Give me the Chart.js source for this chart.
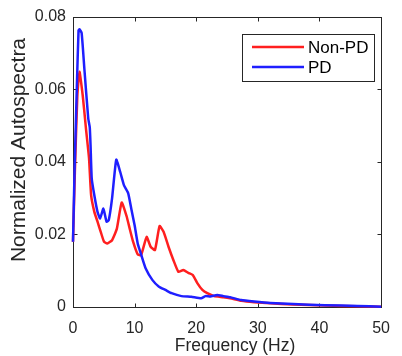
<!DOCTYPE html>
<html>
<head>
<meta charset="utf-8">
<script src="https://cdn.jsdelivr.net/npm/chart.js@4/dist/chart.umd.min.js"></script>
<style>
  html, body { margin: 0; padding: 0; background: #ffffff; }
  #wrap { width: 402px; height: 356px; }
</style>
</head>
<body>
<div id="wrap"><canvas id="c" width="402" height="356"></canvas></div>
<script>
// ---- data ----
const seriesLabels = ["Non-PD", "PD"];
const seriesColors = ["#ff1f1f", "#1f1fff"];

const nonPdFreq = [0, 0.3, 0.7, 1.05, 1.57, 2.1, 2.6, 2.94, 3.46, 3.98, 4.5, 5.03, 5.55, 6.34, 7.12, 7.9, 8.7, 9.2, 9.75, 10.5, 11.05, 11.95, 12.6, 13.3, 14.05, 14.7, 15.5, 16.3, 17.1, 17.9, 18.7, 19.45, 20.2, 21.0, 21.8, 22.9, 24.4, 25.5, 27.3, 29.4, 32, 35.7, 40.9, 46.2, 50];
const nonPdValues = [0.018, 0.037, 0.058, 0.0648, 0.0584, 0.0492, 0.041, 0.0308, 0.0262, 0.0235, 0.0207, 0.018, 0.0175, 0.0184, 0.0216, 0.0288, 0.025, 0.0216, 0.018, 0.0145, 0.0143, 0.0193, 0.0166, 0.0157, 0.0223, 0.0207, 0.0166, 0.0129, 0.0097, 0.0102, 0.0094, 0.0088, 0.0065, 0.0047, 0.0038, 0.003, 0.0027, 0.0024, 0.0017, 0.0013, 0.001, 0.0007, 0.0004, 0.0002, 0.0001];

const pdFreq = [0, 0.26, 0.63, 0.9, 1.05, 1.4, 1.84, 2.47, 2.72, 2.85, 3.04, 3.46, 3.98, 4.4, 4.93, 5.45, 5.8, 6.34, 7.02, 7.66, 8.28, 8.96, 9.5, 10.0, 10.5, 11.05, 11.8, 12.9, 13.95, 15.0, 16.0, 17.6, 19.2, 20.8, 21.5, 22.3, 23.4, 24.4, 25.5, 27.3, 29.4, 32, 35.7, 40.9, 46.2, 50];
const pdValues = [0.018, 0.038, 0.061, 0.0762, 0.0765, 0.0755, 0.0657, 0.052, 0.0495, 0.0445, 0.0354, 0.0308, 0.0262, 0.0244, 0.0271, 0.0235, 0.0239, 0.0299, 0.0406, 0.0372, 0.0335, 0.0313, 0.0267, 0.0225, 0.0175, 0.0145, 0.0106, 0.0074, 0.0056, 0.0047, 0.0038, 0.003, 0.0028, 0.0024, 0.003, 0.0029, 0.0033, 0.003, 0.0027, 0.0019, 0.0015, 0.0011, 0.0008, 0.0005, 0.0003, 0.0001];

const xTicks = [0, 10, 20, 30, 40, 50];
const yTicks = [0, 0.02, 0.04, 0.06, 0.08];
const xTitle = "Frequency (Hz)";
const yTitle = "Normalized Autospectra";

// ---- build ----
const toPts = (xs, ys) => xs.map((x, i) => ({ x: x, y: ys[i] }));
const AXIS = "#262626";
const FONT = "'Liberation Sans', Arial, Helvetica, sans-serif";

const bgPlugin = {
  id: "bg",
  beforeDraw(chart) {
    const ctx = chart.ctx;
    ctx.save();
    ctx.fillStyle = "#ffffff";
    ctx.fillRect(0, 0, chart.width, chart.height);
    ctx.restore();
  }
};

const boxPlugin = {
  id: "box",
  beforeDatasetsDraw(chart) {
    const ctx = chart.ctx;
    const a = chart.chartArea;
    const xs = chart.scales.x, ys = chart.scales.y;
    ctx.save();
    ctx.strokeStyle = AXIS;
    ctx.lineWidth = 1;
    const L = Math.round(a.left) + 0.5, R = Math.round(a.right) + 0.5;
    const T = Math.round(a.top) + 0.5, B = Math.round(a.bottom) + 0.5;
    ctx.strokeRect(L, T, R - L, B - T);
    const tl = 4;
    ctx.beginPath();
    xTicks.forEach(v => {
      const px = Math.round(xs.getPixelForValue(v)) + 0.5;
      ctx.moveTo(px, B); ctx.lineTo(px, B - tl);
      ctx.moveTo(px, T); ctx.lineTo(px, T + tl);
    });
    yTicks.forEach(v => {
      const py = Math.round(ys.getPixelForValue(v)) + 0.5;
      ctx.moveTo(L, py); ctx.lineTo(L + tl, py);
      ctx.moveTo(R, py); ctx.lineTo(R - tl, py);
    });
    ctx.stroke();
    ctx.restore();
  },
  afterDraw(chart) {
    const ctx = chart.ctx;
    ctx.save();
    // axis titles
    ctx.fillStyle = AXIS;
    ctx.font = "17.5px " + FONT;
    ctx.textAlign = "center";
    ctx.textBaseline = "alphabetic";
    ctx.fillText(xTitle, 235, 351);
    ctx.save();
    ctx.translate(25, 150);
    ctx.rotate(-Math.PI / 2);
    ctx.font = "21px " + FONT;
    ctx.fillText(yTitle, 0, 0);
    ctx.restore();

    // legend
    const bx = 242.5, by = 34.5, bw = 132, bh = 47;
    ctx.fillStyle = "#ffffff";
    ctx.fillRect(bx, by, bw, bh);
    ctx.strokeStyle = AXIS;
    ctx.lineWidth = 1;
    ctx.strokeRect(bx, by, bw, bh);
    const rows = [47, 67];
    chart.data.datasets.forEach((ds, i) => {
      const yy = rows[i];
      ctx.strokeStyle = ds.borderColor;
      ctx.lineWidth = 2.5;
      ctx.beginPath();
      ctx.moveTo(252, yy); ctx.lineTo(304, yy);
      ctx.stroke();
      ctx.fillStyle = "#000000";
      ctx.font = "17px " + FONT;
      ctx.textAlign = "left";
      ctx.textBaseline = "middle";
      ctx.fillText(ds.label, 308, yy + 1);
    });
    ctx.restore();
  }
};

new Chart(document.getElementById("c"), {
  type: "line",
  data: {
    datasets: [
      { label: seriesLabels[0], data: toPts(nonPdFreq, nonPdValues), borderColor: seriesColors[0], borderWidth: 2.5, pointRadius: 0, tension: 0.15, fill: false, order: 1, clip: 3 },
      { label: seriesLabels[1], data: toPts(pdFreq, pdValues), borderColor: seriesColors[1], borderWidth: 2.5, pointRadius: 0, tension: 0.15, fill: false, order: 0, clip: 3 }
    ]
  },
  options: {
    responsive: false,
    animation: false,
    events: [],
    layout: { padding: { top: 16, right: 11, left: 0, bottom: 0 } },
    plugins: { legend: { display: false }, tooltip: { enabled: false }, title: { display: false } },
    scales: {
      x: {
        type: "linear", min: 0, max: 50,
        afterFit(s) { s.height = 49; },
        afterBuildTicks(s) { s.ticks = xTicks.map(v => ({ value: v })); },
        grid: { display: false, drawTicks: false },
        border: { display: false },
        ticks: { color: AXIS, font: { family: FONT, size: 16 }, padding: 12, maxRotation: 0, callback: v => String(v) }
      },
      y: {
        type: "linear", min: 0, max: 0.08,
        afterFit(s) { s.width = 73; },
        afterBuildTicks(s) { s.ticks = yTicks.map(v => ({ value: v })); },
        grid: { display: false, drawTicks: false },
        border: { display: false },
        ticks: { color: AXIS, font: { family: FONT, size: 16 }, padding: 7, callback: v => (v === 0 ? "0" : String(+v.toFixed(2))) }
      }
    }
  },
  plugins: [bgPlugin, boxPlugin]
});
</script>
</body>
</html>
